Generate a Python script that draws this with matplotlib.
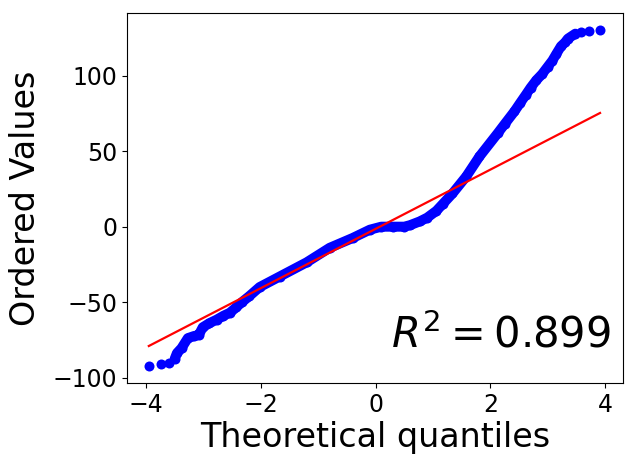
import matplotlib
matplotlib.use('Agg')
import matplotlib.pyplot as plt
import numpy as np

osm = [-3.95, -3.73, -3.59, -3.5, -3.46, -3.38, -3.27, -3.17, -3.08, -3.01, -2.9, -2.77, -2.65, -2.54,
       -2.43, -2.33, -2.2, -2.02, -1.67, -1.2, -0.8, -0.4, -0.1,
       0.1, 0.3, 0.5, 0.6, 0.77, 0.9, 1.06, 1.17, 1.34, 1.58, 1.81,
       2.13, 2.25, 2.42, 2.52, 2.62, 2.7, 2.8, 2.9, 3.0, 3.08, 3.15, 3.23, 3.3, 3.35, 3.48, 3.58, 3.71, 3.91]
osr = [-92.5, -91, -90, -87.6, -83.7, -80.4, -73.8, -72.5, -71.7, -66.6, -64, -61.6, -59, -57,
       -53.5, -50, -46, -40, -33, -23.6, -14, -7.5, -2,
       0, 0, 0, 1, 3.5, 6, 10.5, 15, 22, 33.3, 46.5,
       62, 68, 76.4, 82, 87.5, 92, 97, 101, 106, 110, 114.5, 119.5, 122, 124.5, 127.8, 129, 129.6, 130]
fit_x = [-3.95, 3.91]
fit_y = [-79, 75.3]
r2 = 0.899

osm = np.array(osm)
osr = np.array(osr)

fig = plt.figure(figsize=(6.36, 4.65), dpi=100)
ax = fig.add_axes([127 / 636, 1 - 383 / 465, 496 / 636, 370 / 465])

# solid band where the dots overlap, dots on top
mid = (osm > -3.55) & (osm < 3.55)
ax.plot(osm[mid], osr[mid], '-', color='b', lw=7.2, solid_capstyle='round')
ax.plot(osm, osr, 'o', color='b', ms=7.2, mew=0)
ax.plot(fit_x, fit_y, 'r-', lw=1.6)

ax.set_xlim(-4.33, 4.31)
ax.set_ylim(-103.5, 141.5)
ax.set_xticks([-4, -2, 0, 2, 4])
ax.set_yticks([-100, -50, 0, 50, 100])
ax.tick_params(labelsize=17)
ax.set_xlabel('Theoretical quantiles', fontsize=24, labelpad=3)
ax.set_ylabel('Ordered Values', fontsize=24, labelpad=8)
ax.text(0.975, 0.095, '$R^2=%.3f$' % r2, transform=ax.transAxes, ha='right', va='baseline', fontsize=30)

fig.savefig('out.png', dpi=100)
